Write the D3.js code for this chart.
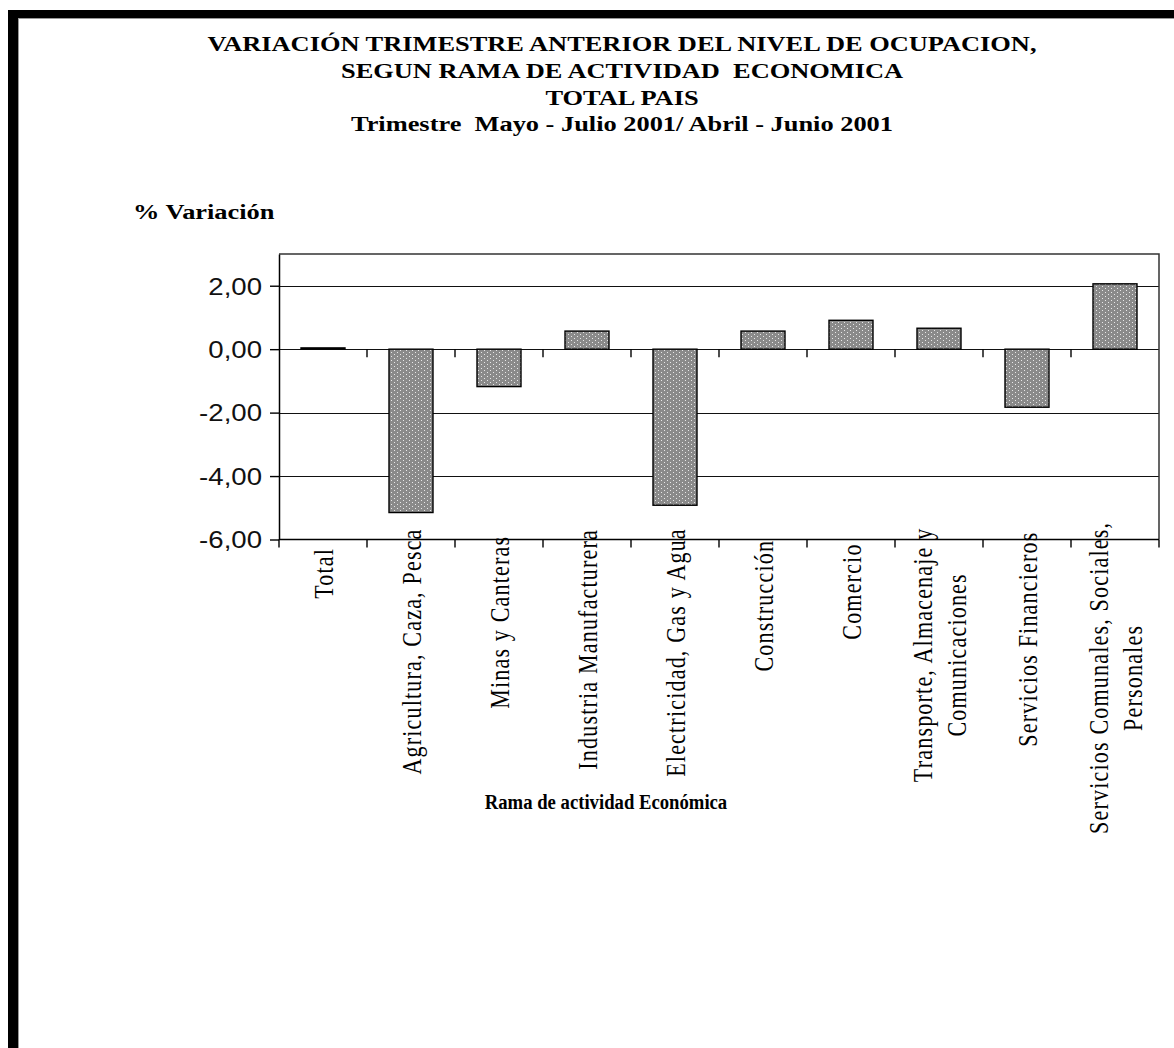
<!DOCTYPE html>
<html><head><meta charset="utf-8">
<script src="https://cdn.jsdelivr.net/npm/d3@7"></script>
<style>body{margin:0;background:#fff}svg{display:block}text{white-space:pre}</style>
</head><body>
<svg id="chart" width="1174" height="1048"></svg>
<script>
// ---- data ----
const titleLines = [
  "VARIACIÓN TRIMESTRE ANTERIOR DEL NIVEL DE OCUPACION,",
  "SEGUN RAMA DE ACTIVIDAD  ECONOMICA",
  "TOTAL PAIS",
  "Trimestre  Mayo - Julio 2001/ Abril - Junio 2001"
];
const yAxisTitle = "% Variación";
const xAxisTitle = "Rama de actividad Económica";
const categories = [
  "Total",
  "Agricultura, Caza, Pesca",
  "Minas y Canteras",
  "Industria Manufacturera",
  "Electricidad, Gas y Agua",
  "Construcción",
  "Comercio",
  "Transporte, Almacenaje y\nComunicaciones",
  "Servicios Financieros",
  "Servicios Comunales, Sociales,\nPersonales"
];
const values = [0.04, -5.15, -1.18, 0.57, -4.92, 0.57, 0.91, 0.66, -1.83, 2.06];
const yTicks = [-6, -4, -2, 0, 2];
const yDomain = [-6, 3];

// ---- layout ----
const svg = d3.select("#chart");
const plot = {left: 279, right: 1159, top: 254, bottom: 539.5};
const SX = 1.2; // horizontal stretch of the lettering
const serif = "'Liberation Serif', 'Times New Roman', Times, serif";

const fmt = d3.formatLocale({decimal: ",", thousands: ".", grouping: [3], currency: ["", ""], minus: "-"}).format(".2f");

const x = d3.scaleBand().domain(categories).range([plot.left, plot.right]).paddingInner(0.5).paddingOuter(0.25);
const y = d3.scaleLinear().domain(yDomain).range([plot.bottom, plot.top]);
const step = x.step();
const boundaries = d3.range(categories.length + 1).map(i => plot.left + i * step);

// pattern
const defs = svg.append("defs");
const pat = defs.append("pattern").attr("id", "dots").attr("width", 6).attr("height", 4).attr("patternUnits", "userSpaceOnUse");
pat.append("rect").attr("width", 6).attr("height", 4).attr("fill", "#8a8a8a");
pat.append("rect").attr("x", 1).attr("y", 0).attr("width", 1).attr("height", 1).attr("fill", "#e8e8e8");
pat.append("rect").attr("x", 4).attr("y", 2).attr("width", 1).attr("height", 1).attr("fill", "#e8e8e8");

// frame
svg.append("rect").attr("x", 8).attr("y", 10).attr("width", 1166).attr("height", 8).attr("fill", "#000");
svg.append("rect").attr("x", 8).attr("y", 10).attr("width", 10).attr("height", 1038).attr("fill", "#000");
svg.append("line").attr("x1", 18).attr("x2", 1174).attr("y1", 18.5).attr("y2", 18.5).attr("stroke", "#999");
svg.append("line").attr("x1", 18.5).attr("x2", 18.5).attr("y1", 18).attr("y2", 1048).attr("stroke", "#999");

// titles
const titleBase = [51, 78, 105, 131];
titleLines.forEach((t, i) => {
  svg.append("text")
    .attr("transform", `translate(622,${titleBase[i]}) scale(${SX},1)`)
    .attr("text-anchor", "middle")
    .attr("font-family", serif)
    .attr("font-weight", "bold").attr("font-size", 22).attr("fill", "#000")
    .text(t);
});
svg.append("text")
  .attr("transform", `translate(133,219) scale(${SX},1)`)
  .attr("font-family", serif)
  .attr("font-weight", "bold").attr("font-size", 22).attr("fill", "#000")
  .text(yAxisTitle);

// gridlines
svg.append("g").selectAll("line").data(yTicks.filter(d => d !== yDomain[0])).join("line")
  .attr("x1", plot.left).attr("x2", plot.right)
  .attr("y1", d => Math.round(y(d)) + 0.5).attr("y2", d => Math.round(y(d)) + 0.5)
  .attr("stroke", "#111").attr("stroke-width", 1.2);

// plot border (top, right)
svg.append("path")
  .attr("d", `M${plot.left},${plot.top}H${plot.right}V${plot.bottom}`)
  .attr("fill", "none").attr("stroke", "#333").attr("stroke-width", 1.5);

// bars
svg.append("g").selectAll("rect").data(categories).join("rect")
  .attr("x", d => x(d))
  .attr("width", x.bandwidth())
  .attr("y", (d, i) => y(Math.max(0, values[i])))
  .attr("height", (d, i) => Math.abs(y(values[i]) - y(0)))
  .attr("fill", "url(#dots)")
  .attr("stroke", "#000").attr("stroke-width", 1.4);

// ticks on the zero line
svg.append("g").selectAll("line").data(boundaries.slice(1, -1)).join("line")
  .attr("x1", d => d).attr("x2", d => d)
  .attr("y1", y(0)).attr("y2", y(0) + 8)
  .attr("stroke", "#000").attr("stroke-width", 1.4);

// bottom category axis line + ticks
svg.append("line").attr("x1", plot.left).attr("x2", plot.right)
  .attr("y1", plot.bottom).attr("y2", plot.bottom).attr("stroke", "#000").attr("stroke-width", 1.5);
svg.append("g").selectAll("line").data(boundaries).join("line")
  .attr("x1", d => d).attr("x2", d => d)
  .attr("y1", plot.bottom).attr("y2", plot.bottom + 8)
  .attr("stroke", "#000").attr("stroke-width", 1.4);

// y axis
const yAxis = svg.append("g").attr("transform", `translate(${plot.left},0)`)
  .call(d3.axisLeft(y).tickValues(yTicks).tickSize(9).tickSizeOuter(0).tickFormat(fmt));
yAxis.select(".domain").attr("stroke", "#000").attr("stroke-width", 1.5);
yAxis.selectAll(".tick line").attr("stroke", "#000").attr("stroke-width", 1.4);
yAxis.selectAll(".tick text")
  .attr("x", null)
  .attr("transform", `translate(-17,0) scale(${SX},1)`)
  .attr("dy", "0.36em")
  .attr("font-family", "'Liberation Sans', Arial, sans-serif")
  .attr("font-size", 23).attr("fill", "#111");

// category labels (rotated)
const lineGap = 34;
const LSX = 1.25;
categories.forEach(c => {
  const lines = c.split("\n");
  const cx = x(c) + x.bandwidth() / 2;
  const g = svg.append("g");
  const texts = lines.map(ln => g.append("text")
    .attr("text-anchor", "middle")
    .attr("dy", "0.35em")
    .attr("font-family", serif).attr("font-size", 22)
    .attr("letter-spacing", 1.2)
    .attr("fill", "#000")
    .text(ln));
  const L = d3.max(texts, t => t.node().getComputedTextLength());
  const top = 553 - 0.1 * L;
  const cy = top + L / 2;
  texts.forEach((t, i) => {
    const off = (i - (lines.length - 1) / 2) * lineGap;
    t.attr("transform", `translate(${cx + off},${cy}) scale(${LSX},1) rotate(-90)`);
  });
});

// x axis title
svg.append("text")
  .attr("transform", `translate(606,809) scale(0.85,1)`)
  .attr("text-anchor", "middle")
  .attr("font-family", serif)
  .attr("font-weight", "bold").attr("font-size", 22).attr("fill", "#000")
  .text(xAxisTitle);
</script>
</body></html>
